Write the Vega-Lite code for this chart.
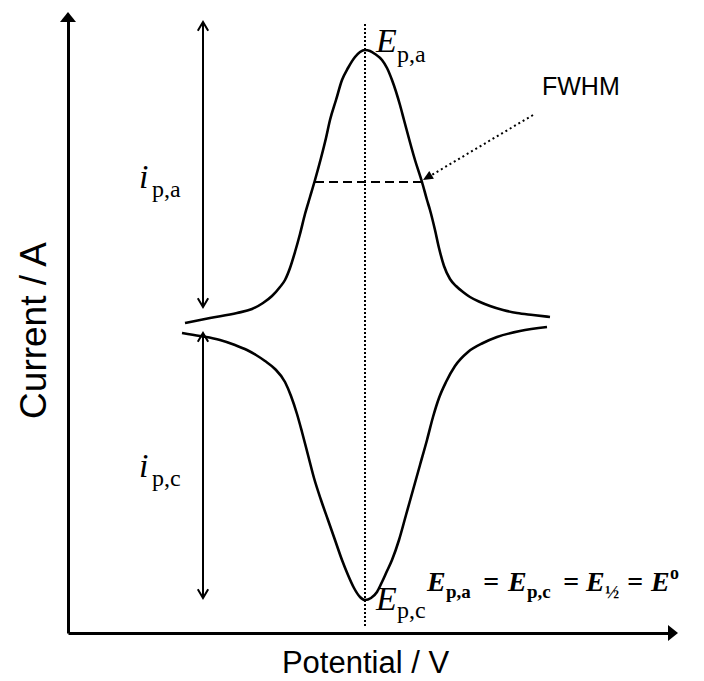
{
  "$schema": "https://vega.github.io/schema/vega-lite/v6.json",
  "width": 603,
  "height": 612,
  "autosize": {"type": "none"},
  "padding": {"left": 68, "top": 21, "right": 33, "bottom": 48},
  "background": "white",
  "config": {"view": {"stroke": null}},
  "encoding": {
    "x": {
      "field": "x", "type": "quantitative",
      "scale": {"domain": [-297, 306], "nice": false, "zero": false},
      "axis": {"title": "Potential / V", "grid": false, "ticks": false, "labels": false,
        "domainColor": "black", "domainWidth": 3,
        "titleFont": "Liberation Sans", "titleFontSize": 31, "titleFontWeight": "normal",
        "titleColor": "black", "titleBaseline": "alphabetic", "titleY": 39, "titleX": 297}
    },
    "y": {
      "field": "y", "type": "quantitative",
      "scale": {"domain": [-303, 309], "nice": false, "zero": false},
      "axis": {"title": "Current / A", "grid": false, "ticks": false, "labels": false,
        "domainColor": "black", "domainWidth": 3,
        "titleFont": "Liberation Sans", "titleFontSize": 37, "titleFontWeight": "normal",
        "titleColor": "black", "titleBaseline": "alphabetic", "titleAngle": 270, "titleX": -23, "titleY": 309}
    }
  },
  "layer": [
    {
      "data": {"values": [
        {"branch": "anodic", "x": -180, "y": 7}, {"branch": "anodic", "x": -155, "y": 12},
        {"branch": "anodic", "x": -128, "y": 17}, {"branch": "anodic", "x": -113, "y": 21},
        {"branch": "anodic", "x": -102, "y": 27}, {"branch": "anodic", "x": -93, "y": 34},
        {"branch": "anodic", "x": -85, "y": 43}, {"branch": "anodic", "x": -80, "y": 50},
        {"branch": "anodic", "x": -75, "y": 62}, {"branch": "anodic", "x": -70, "y": 78},
        {"branch": "anodic", "x": -65, "y": 96}, {"branch": "anodic", "x": -60, "y": 116},
        {"branch": "anodic", "x": -55, "y": 133}, {"branch": "anodic", "x": -50, "y": 150},
        {"branch": "anodic", "x": -44, "y": 172}, {"branch": "anodic", "x": -39, "y": 192},
        {"branch": "anodic", "x": -35, "y": 210}, {"branch": "anodic", "x": -29, "y": 230},
        {"branch": "anodic", "x": -23, "y": 250}, {"branch": "anodic", "x": -17, "y": 262},
        {"branch": "anodic", "x": -10, "y": 273}, {"branch": "anodic", "x": -5, "y": 278},
        {"branch": "anodic", "x": 0, "y": 280}, {"branch": "anodic", "x": 5, "y": 279},
        {"branch": "anodic", "x": 10, "y": 276}, {"branch": "anodic", "x": 17, "y": 270},
        {"branch": "anodic", "x": 22, "y": 262}, {"branch": "anodic", "x": 27, "y": 250},
        {"branch": "anodic", "x": 35, "y": 225}, {"branch": "anodic", "x": 39, "y": 210},
        {"branch": "anodic", "x": 50, "y": 170}, {"branch": "anodic", "x": 57, "y": 148},
        {"branch": "anodic", "x": 62, "y": 130}, {"branch": "anodic", "x": 65, "y": 120},
        {"branch": "anodic", "x": 70, "y": 100}, {"branch": "anodic", "x": 74, "y": 82},
        {"branch": "anodic", "x": 79, "y": 64}, {"branch": "anodic", "x": 85, "y": 51},
        {"branch": "anodic", "x": 91, "y": 44}, {"branch": "anodic", "x": 98, "y": 38},
        {"branch": "anodic", "x": 105, "y": 33}, {"branch": "anodic", "x": 115, "y": 28},
        {"branch": "anodic", "x": 125, "y": 24}, {"branch": "anodic", "x": 138, "y": 20},
        {"branch": "anodic", "x": 152, "y": 17}, {"branch": "anodic", "x": 168, "y": 15},
        {"branch": "anodic", "x": 185, "y": 13},
        {"branch": "cathodic", "x": -183, "y": -3}, {"branch": "cathodic", "x": -165, "y": -6},
        {"branch": "cathodic", "x": -145, "y": -10}, {"branch": "cathodic", "x": -130, "y": -15},
        {"branch": "cathodic", "x": -118, "y": -20}, {"branch": "cathodic", "x": -109, "y": -25},
        {"branch": "cathodic", "x": -100, "y": -31}, {"branch": "cathodic", "x": -90, "y": -39},
        {"branch": "cathodic", "x": -80, "y": -52}, {"branch": "cathodic", "x": -74, "y": -66},
        {"branch": "cathodic", "x": -68, "y": -84}, {"branch": "cathodic", "x": -63, "y": -102},
        {"branch": "cathodic", "x": -57, "y": -125}, {"branch": "cathodic", "x": -51, "y": -148},
        {"branch": "cathodic", "x": -44, "y": -170}, {"branch": "cathodic", "x": -37, "y": -190},
        {"branch": "cathodic", "x": -30, "y": -210}, {"branch": "cathodic", "x": -23, "y": -230},
        {"branch": "cathodic", "x": -17, "y": -245}, {"branch": "cathodic", "x": -11, "y": -258},
        {"branch": "cathodic", "x": -5, "y": -267}, {"branch": "cathodic", "x": 0, "y": -270},
        {"branch": "cathodic", "x": 6, "y": -268}, {"branch": "cathodic", "x": 12, "y": -262},
        {"branch": "cathodic", "x": 17, "y": -252}, {"branch": "cathodic", "x": 22, "y": -241},
        {"branch": "cathodic", "x": 27, "y": -230}, {"branch": "cathodic", "x": 34, "y": -210},
        {"branch": "cathodic", "x": 41, "y": -185}, {"branch": "cathodic", "x": 48, "y": -160},
        {"branch": "cathodic", "x": 55, "y": -135}, {"branch": "cathodic", "x": 62, "y": -110},
        {"branch": "cathodic", "x": 68, "y": -87}, {"branch": "cathodic", "x": 74, "y": -68},
        {"branch": "cathodic", "x": 81, "y": -52}, {"branch": "cathodic", "x": 90, "y": -36},
        {"branch": "cathodic", "x": 103, "y": -22}, {"branch": "cathodic", "x": 118, "y": -13},
        {"branch": "cathodic", "x": 132, "y": -7}, {"branch": "cathodic", "x": 155, "y": -1},
        {"branch": "cathodic", "x": 182, "y": 3}
      ]},
      "mark": {"type": "line", "color": "black", "strokeWidth": 2.6, "interpolate": "monotone"},
      "encoding": {"detail": {"field": "branch"}}
    },
    {
      "data": {"values": [{"x": 0, "y": 306, "x2": 0, "y2": -296}]},
      "mark": {"type": "rule", "color": "black", "strokeWidth": 2, "strokeDash": [2, 2]},
      "encoding": {"x2": {"field": "x2"}, "y2": {"field": "y2"}}
    },
    {
      "data": {"values": [{"x": -50, "y": 148, "x2": 57, "y2": 148}]},
      "mark": {"type": "rule", "color": "black", "strokeWidth": 2, "strokeDash": [9, 5]},
      "encoding": {"x2": {"field": "x2"}, "y2": {"field": "y2"}}
    },
    {
      "data": {"values": [{"x": 168, "y": 215, "x2": 65, "y2": 154}]},
      "mark": {"type": "rule", "color": "black", "strokeWidth": 2, "strokeDash": [2, 3]},
      "encoding": {"x2": {"field": "x2"}, "y2": {"field": "y2"}}
    },
    {
      "data": {"values": [
        {"x": -162, "y": 306, "x2": -162, "y2": 24},
        {"x": -162, "y": -5, "x2": -162, "y2": -266}
      ]},
      "mark": {"type": "rule", "color": "black", "strokeWidth": 2},
      "encoding": {"x2": {"field": "x2"}, "y2": {"field": "y2"}}
    },
    {
      "data": {"values": [{"x": -297, "y": 318}]},
      "mark": {"type": "point", "shape": "M0,0L0.8,1L-0.8,1Z", "size": 400, "filled": true, "color": "black", "opacity": 1}
    },
    {
      "data": {"values": [{"x": 313, "y": -303}]},
      "mark": {"type": "point", "shape": "M0,0L-1,-0.8L-1,0.8Z", "size": 400, "filled": true, "color": "black", "opacity": 1}
    },
    {
      "data": {"values": [{"x": -162, "y": 308}, {"x": -162, "y": -3}]},
      "mark": {"type": "point", "shape": "M-0.6,1L0,0L0.6,1", "size": 300, "filled": false, "color": "black", "strokeWidth": 2, "opacity": 1}
    },
    {
      "data": {"values": [{"x": -162, "y": 23}, {"x": -162, "y": -268}]},
      "mark": {"type": "point", "shape": "M-0.6,-1L0,0L0.6,-1", "size": 300, "filled": false, "color": "black", "strokeWidth": 2, "opacity": 1}
    },
    {
      "data": {"values": [{"x": 58, "y": 150}]},
      "mark": {"type": "point", "shape": "M0,0L-1,-0.45L-1,0.45Z", "size": 400, "angle": 149, "filled": true, "color": "black", "opacity": 1}
    },
    {
      "data": {"values": [
        {"x": 11, "y": 278, "t": "E"}, {"x": 11, "y": -280, "t": "E"},
        {"x": -226, "y": 142, "t": "i"}, {"x": -226, "y": -147, "t": "i"}
      ]},
      "mark": {"type": "text", "font": "Liberation Serif", "fontStyle": "italic", "fontSize": 34, "align": "left", "baseline": "alphabetic", "color": "black"},
      "encoding": {"text": {"field": "t"}}
    },
    {
      "data": {"values": [
        {"x": 32, "y": 268, "t": "p,a"}, {"x": 32, "y": -288, "t": "p,c"},
        {"x": -213, "y": 133, "t": "p,a"}, {"x": -213, "y": -156, "t": "p,c"}
      ]},
      "mark": {"type": "text", "font": "Liberation Serif", "fontSize": 24, "align": "left", "baseline": "alphabetic", "color": "black"},
      "encoding": {"text": {"field": "t"}}
    },
    {
      "data": {"values": [{"x": 177, "y": 235, "t": "FWHM"}]},
      "mark": {"type": "text", "font": "Liberation Sans", "fontSize": 25, "align": "left", "baseline": "alphabetic", "color": "black"},
      "encoding": {"text": {"field": "t"}}
    },
    {
      "data": {"values": [
        {"x": 62, "y": -261, "t": "E"}, {"x": 118, "y": -261, "t": "="},
        {"x": 143, "y": -261, "t": "E"}, {"x": 198, "y": -261, "t": "="},
        {"x": 221, "y": -261, "t": "E"}, {"x": 262, "y": -261, "t": "="},
        {"x": 286, "y": -261, "t": "E"}
      ]},
      "mark": {"type": "text", "font": "Liberation Serif", "fontStyle": "italic", "fontWeight": "bold", "fontSize": 28, "align": "left", "baseline": "alphabetic", "color": "black"},
      "encoding": {"text": {"field": "t"}}
    },
    {
      "data": {"values": [
        {"x": 81, "y": -268, "t": "p,a"}, {"x": 162, "y": -268, "t": "p,c"}, {"x": 240, "y": -268, "t": "½"}
      ]},
      "mark": {"type": "text", "font": "Liberation Serif", "fontWeight": "bold", "fontSize": 19, "align": "left", "baseline": "alphabetic", "color": "black"},
      "encoding": {"text": {"field": "t"}}
    },
    {
      "data": {"values": [{"x": 305, "y": -249, "t": "o"}]},
      "mark": {"type": "text", "font": "Liberation Serif", "fontWeight": "bold", "fontSize": 18, "align": "left", "baseline": "alphabetic", "color": "black"},
      "encoding": {"text": {"field": "t"}}
    }
  ]
}
